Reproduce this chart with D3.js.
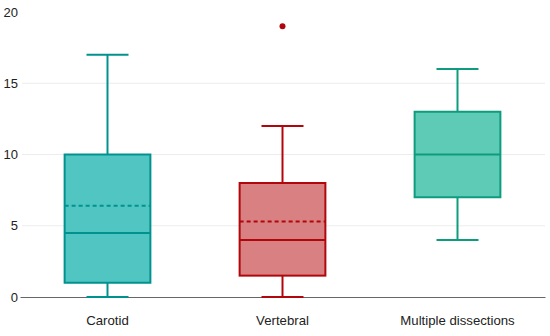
<!DOCTYPE html>
<html>
<head>
<meta charset="utf-8">
<script src="https://cdn.jsdelivr.net/npm/d3@7"></script>
<style>
  body { margin: 0; background: #fff; }
  text { font-family: "Liberation Sans", Arial, sans-serif; }
</style>
</head>
<body>
<div id="vis-holder"></div>
<script>
// data
var groups  = ["Carotid", "Vertebral", "Multiple dissections"];
var mins    = [0, 0, 4];
var q1s     = [1, 1.5, 7];
var medians = [4.5, 4, 10];
var means   = [6.4, 5.3, null];
var q3s     = [10, 8, 13];
var maxs    = [17, 12, 16];
var outliers = [[], [19], []];
var yTicks  = [0, 5, 10, 15, 20];

var fills   = ["#50c5c2", "#d98182", "#5ecbb6"];
var strokes = ["#00928f", "#b0060c", "#0e9c7e"];

var margin = {top: 12, right: 5, bottom: 39, left: 20},
    width = 550 - margin.left - margin.right,
    height = 336 - margin.top - margin.bottom;

var svg = d3.select("#vis-holder")
  .append("svg")
    .attr("width", width + margin.left + margin.right)
    .attr("height", height + margin.top + margin.bottom)
  .append("g")
    .attr("transform", "translate(" + margin.left + "," + margin.top + ")");

var x = d3.scaleBand()
  .domain(groups)
  .range([0, width]);

var y = d3.scaleLinear()
  .domain([0, 20])
  .range([height, 0]);

// grid lines
svg.append("g")
  .selectAll("line")
  .data(yTicks.filter(d => d > 0 && d < 20))
  .enter()
  .append("line")
    .attr("x1", 2)
    .attr("x2", width)
    .attr("y1", d => y(d))
    .attr("y2", d => y(d))
    .attr("stroke", "#ececec")
    .attr("stroke-width", 1);

// Y axis labels
var yAxis = svg.append("g")
  .call(d3.axisLeft(y).tickValues(yTicks).tickSize(0).tickPadding(2));
yAxis.select(".domain").remove();
yAxis.selectAll("text")
  .attr("font-size", "13px")
  .attr("fill", "#222");

// X axis
var xAxis = svg.append("g")
  .attr("transform", "translate(0," + height + ")")
  .call(d3.axisBottom(x).tickSize(0).tickPadding(19));
xAxis.select(".domain")
  .attr("stroke", "#666")
  .attr("stroke-width", 1.2);
xAxis.selectAll("text")
  .attr("font-size", "13.2px")
  .attr("fill", "#222");

var boxW = x.bandwidth() * 0.49;
var capW = x.bandwidth() * 0.24;

var boxes = groups.map((g, i) => ({
  name: g, min: mins[i], q1: q1s[i], med: medians[i], mean: means[i],
  q3: q3s[i], max: maxs[i], out: outliers[i], fill: fills[i], stroke: strokes[i]
}));

var box = svg.append("g")
  .selectAll("g")
  .data(boxes)
  .enter()
  .append("g")
  .attr("transform", d => "translate(" + (x(d.name) + x.bandwidth() / 2) + ",0)");

// whiskers
box.append("line")
  .attr("y1", d => y(d.min)).attr("y2", d => y(d.q1))
  .attr("stroke", d => d.stroke).attr("stroke-width", 2);
box.append("line")
  .attr("y1", d => y(d.q3)).attr("y2", d => y(d.max))
  .attr("stroke", d => d.stroke).attr("stroke-width", 2);
box.append("line")
  .attr("x1", -capW / 2).attr("x2", capW / 2)
  .attr("y1", d => y(d.min)).attr("y2", d => y(d.min))
  .attr("stroke", d => d.stroke).attr("stroke-width", 2);
box.append("line")
  .attr("x1", -capW / 2).attr("x2", capW / 2)
  .attr("y1", d => y(d.max)).attr("y2", d => y(d.max))
  .attr("stroke", d => d.stroke).attr("stroke-width", 2);

// box
box.append("rect")
  .attr("x", -boxW / 2)
  .attr("width", boxW)
  .attr("y", d => y(d.q3))
  .attr("height", d => y(d.q1) - y(d.q3))
  .attr("fill", d => d.fill)
  .attr("stroke", d => d.stroke)
  .attr("stroke-width", 2);

// median
box.append("line")
  .attr("x1", -boxW / 2).attr("x2", boxW / 2)
  .attr("y1", d => y(d.med)).attr("y2", d => y(d.med))
  .attr("stroke", d => d.stroke).attr("stroke-width", 2);

// mean (dashed)
box.filter(d => d.mean != null)
  .append("line")
  .attr("x1", -boxW / 2).attr("x2", boxW / 2)
  .attr("y1", d => y(d.mean)).attr("y2", d => y(d.mean))
  .attr("stroke", d => d.stroke).attr("stroke-width", 2)
  .attr("stroke-dasharray", "4,3");

// outliers
box.selectAll("circle")
  .data(d => d.out.map(v => ({v: v, c: d.stroke})))
  .enter()
  .append("circle")
  .attr("cy", d => y(d.v))
  .attr("r", 3)
  .attr("fill", d => d.c);
</script>
</body>
</html>
